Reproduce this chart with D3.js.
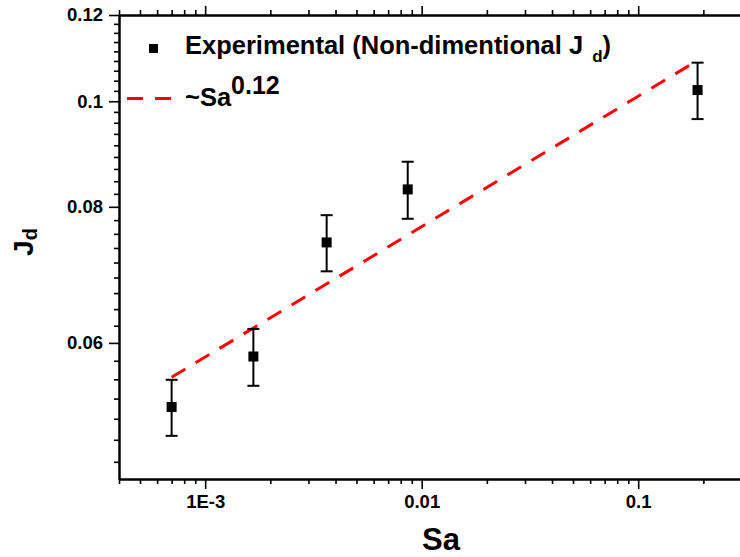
<!DOCTYPE html>
<html>
<head>
<meta charset="utf-8">
<script src="https://cdn.jsdelivr.net/npm/d3@7/dist/d3.min.js"></script>
<style>
  html, body { margin: 0; padding: 0; background: #fff; overflow: hidden; }
  svg { display: block; overflow: hidden; }
  text { font-family: Arial, "Liberation Sans", sans-serif; font-weight: bold; fill: #000; }
</style>
</head>
<body>
<svg id="chart" width="740" height="557" viewBox="0 0 740 557"></svg>
<script>
// ---- data ----
const sa      = [7.0e-4, 1.67e-3, 3.64e-3, 8.62e-3, 0.188];
const jd      = [0.0524, 0.0583, 0.0742, 0.0830, 0.1024];
const jdErr   = [0.0031, 0.0035, 0.0044, 0.0050, 0.0061];
const fitSa   = [7.0e-4, 0.188];
const fitJd   = [0.0558, 0.1090];
const xTickValues = [0.001, 0.01, 0.1];
const xTickLabels = ["1E-3", "0.01", "0.1"];
const yTickValues = [0.06, 0.08, 0.1, 0.12];
const yTickLabels = ["0.06", "0.08", "0.1", "0.12"];
const legendLabels = ["Experimental (Non-dimentional J", "d", ")"];
const fitLabel = ["~Sa", "0.12"];
const xTitle = "Sa";
const yTitle = ["J", "d"];

// ---- layout ----
const L = 119, R = 741.5, T = 15, B = 479;
const svg = d3.select("#chart");

const x = d3.scaleLog().domain([4e-4, 0.3]).range([L, R]);
const y = d3.scaleLog().domain([0.045, 0.12]).range([B, T]);

// minor tick values
const xMinor = [];
for (let e = -4; e <= -1; e++) for (let k = 2; k <= 9; k++) {
  const v = k * Math.pow(10, e);
  if (v >= 4e-4 - 1e-12 && v < 0.29) xMinor.push(v);
}
const yMinor = [];
for (let base = 0.04; base < 0.12 - 1e-9; base += 0.02) {
  for (let k = 1; k <= 8; k++) {
    const v = base + k * 0.02 / 9;
    if (v >= 0.045 && v <= 0.12) yMinor.push(v);
  }
}

function styleAxis(g, fs) {
  g.select(".domain").attr("stroke", "#000").attr("stroke-width", 2);
  g.selectAll(".tick line").attr("stroke", "#000").attr("stroke-width", 1.6);
  g.selectAll(".tick text").style("font-size", fs + "px")
    .style("font-family", "Arial, 'Liberation Sans', sans-serif").style("font-weight", "bold");
}

// bottom axis
const gB = svg.append("g").attr("transform", `translate(0,${B})`)
  .call(d3.axisBottom(x).tickValues(xTickValues).tickFormat((d, i) => xTickLabels[i]).tickSize(10).tickSizeOuter(0).tickPadding(6));
styleAxis(gB, 18.5);
const gBm = svg.append("g").attr("transform", `translate(0,${B})`)
  .call(d3.axisBottom(x).tickValues(xMinor).tickFormat("").tickSize(5).tickSizeOuter(0));
styleAxis(gBm, 18);

// top axis
const gT = svg.append("g").attr("transform", `translate(0,${T})`)
  .call(d3.axisTop(x).tickValues(xTickValues).tickFormat("").tickSize(9).tickSizeOuter(0));
styleAxis(gT, 18);
const gTm = svg.append("g").attr("transform", `translate(0,${T})`)
  .call(d3.axisTop(x).tickValues(xMinor).tickFormat("").tickSize(5).tickSizeOuter(0));
styleAxis(gTm, 18);

// left axis
const gL = svg.append("g").attr("transform", `translate(${L},0)`)
  .call(d3.axisLeft(y).tickValues(yTickValues).tickFormat((d, i) => yTickLabels[i]).tickSize(10).tickSizeOuter(0).tickPadding(6));
styleAxis(gL, 18.5);
const gLm = svg.append("g").attr("transform", `translate(${L},0)`)
  .call(d3.axisLeft(y).tickValues(yMinor).tickFormat("").tickSize(5).tickSizeOuter(0));
styleAxis(gLm, 18);

// fit line
const line = d3.line().x(d => x(d[0])).y(d => y(d[1]));
svg.append("path")
  .datum(fitSa.map((s, i) => [s, fitJd[i]]))
  .attr("d", line)
  .attr("fill", "none").attr("stroke", "#ff0000").attr("stroke-width", 3)
  .attr("stroke-dasharray", "16,12");

// error bars
const pts = sa.map((s, i) => ({ s, j: jd[i], e: jdErr[i] }));
const eb = svg.append("g").attr("stroke", "#000").attr("stroke-width", 2);
pts.forEach(p => {
  const cx = x(p.s), y1 = y(p.j + p.e), y0 = y(p.j - p.e);
  eb.append("line").attr("x1", cx).attr("x2", cx).attr("y1", y1).attr("y2", y0);
  eb.append("line").attr("x1", cx - 6).attr("x2", cx + 6).attr("y1", y1).attr("y2", y1);
  eb.append("line").attr("x1", cx - 6).attr("x2", cx + 6).attr("y1", y0).attr("y2", y0);
});
svg.append("g").selectAll("rect").data(pts).join("rect")
  .attr("x", d => x(d.s) - 5).attr("y", d => y(d.j) - 5)
  .attr("width", 10).attr("height", 10).attr("fill", "#000");

// legend
svg.append("rect").attr("x", 149).attr("y", 44).attr("width", 9).attr("height", 9).attr("fill", "#000");
const t1 = svg.append("text").attr("x", 185).attr("y", 54).style("font-size", "25.5px");
t1.append("tspan").text(legendLabels[0]);
t1.append("tspan").attr("dx", 9).attr("dy", 8).style("font-size", "17px").text(legendLabels[1]);
t1.append("tspan").attr("dy", -8).text(legendLabels[2]);

svg.append("line").attr("x1", 127).attr("x2", 172).attr("y1", 98.5).attr("y2", 98.5)
  .attr("stroke", "#ff0000").attr("stroke-width", 3).attr("stroke-dasharray", "16,12");
const t2 = svg.append("text").attr("x", 185).attr("y", 106).style("font-size", "25.5px");
t2.append("tspan").text(fitLabel[0]);
t2.append("tspan").attr("dy", -12).style("font-size", "25px").text(fitLabel[1]);

// axis titles
svg.append("text").attr("x", 441).attr("y", 550).attr("text-anchor", "middle")
  .style("font-size", "31px").text(xTitle);
const yt = svg.append("text").attr("transform", "translate(33,242) rotate(-90)")
  .attr("text-anchor", "middle").style("font-size", "28px");
yt.append("tspan").text(yTitle[0]);
yt.append("tspan").attr("dy", 4).style("font-size", "20px").text(yTitle[1]);
</script>
</body>
</html>
